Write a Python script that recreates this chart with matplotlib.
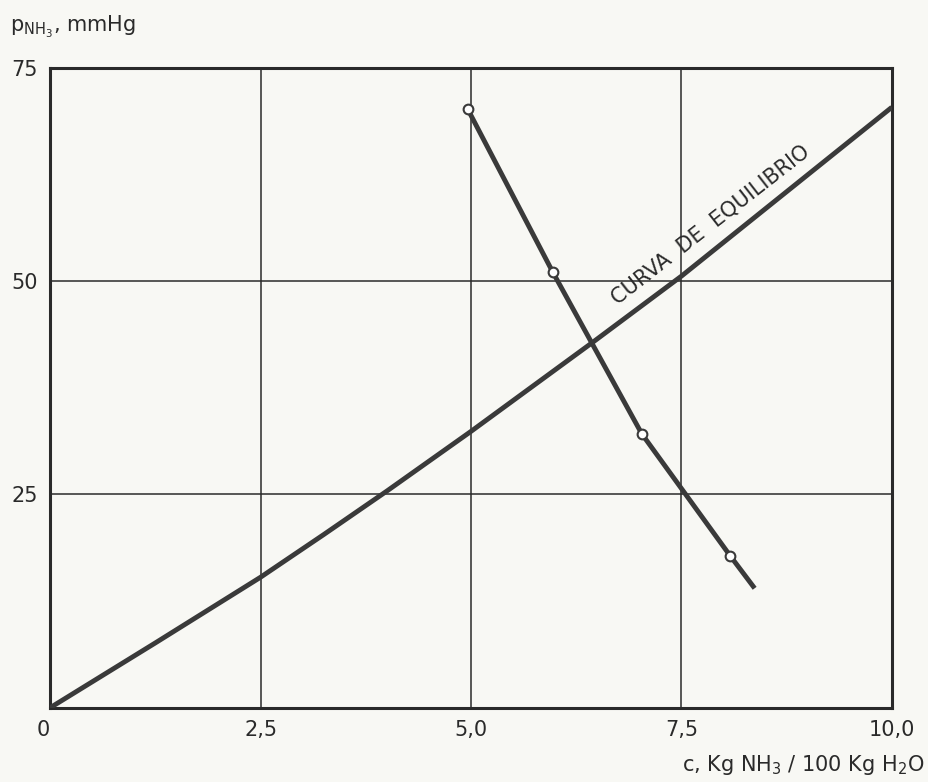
import matplotlib.pyplot as plt

# curva de equilibrio (c, p)
eq_c = [0.0, 1.25, 2.5, 3.25, 4.0, 5.0, 6.44, 7.5, 10.0]
eq_p = [0.0, 7.6, 15.3, 20.3, 25.4, 32.4, 42.8, 50.6, 70.4]

# línea de operación: puntos medidos y extremo final
op_c = [4.96, 5.97, 7.03, 8.08]
op_p = [70.2, 51.1, 32.1, 17.8]
op_end_c = 8.37
op_end_p = 14.0

x_ticks = [0, 2.5, 5.0, 7.5, 10.0]
x_labels = ["0", "2,5", "5,0", "7,5", "10,0"]
y_ticks = [25, 50, 75]
y_labels = ["25", "50", "75"]

plt.rcParams["font.family"] = ["DejaVu Sans"]
line_col = "#3a3a3a"

fig = plt.figure(figsize=(9.29, 7.82), dpi=100, facecolor="#f8f8f4")
ax = fig.add_axes([0.054, 0.095, 0.906, 0.818])
ax.set_facecolor("#f8f8f4")

ax.set_xlim(0, 10)
ax.set_ylim(0, 75)
ax.set_xticks(x_ticks)
ax.set_xticklabels(x_labels)
ax.set_yticks(y_ticks)
ax.set_yticklabels(y_labels)
ax.tick_params(length=0, labelsize=15, colors="#2a2a2a", pad=9)
ax.get_xticklabels()[0].set_horizontalalignment("right")
ax.grid(True, color="#2a2a2a", linewidth=1.1)
for s in ax.spines.values():
    s.set_linewidth(2.2)
    s.set_color("#2a2a2a")

# curva de equilibrio
ax.plot(eq_c, eq_p, color=line_col, linewidth=3.5, solid_capstyle="butt", zorder=3)

# línea de operación
ax.plot(op_c + [op_end_c], op_p + [op_end_p], color=line_col, linewidth=3.5,
        solid_capstyle="butt", zorder=3)
ax.plot(op_c, op_p, linestyle="none", marker="o", markersize=7,
        markerfacecolor="white", markeredgecolor=line_col, markeredgewidth=1.5, zorder=4)

ax.text(7.85, 56.6, "CURVA  DE  EQUILIBRIO", rotation=38, rotation_mode="anchor",
        ha="center", va="center", fontsize=15, fontweight="medium", color="#2a2a2a")

fig.text(0.011, 0.965, r"p$_{\mathregular{NH_3}}$, mmHg", fontsize=15,
         color="#2a2a2a", ha="left", va="center")
fig.text(0.995, 0.022, r"c, Kg NH$_{\mathregular{3}}$ / 100 Kg H$_{\mathregular{2}}$O",
         fontsize=15, color="#2a2a2a", ha="right", va="center")

fig.savefig("out.png", dpi=100, facecolor=fig.get_facecolor())
